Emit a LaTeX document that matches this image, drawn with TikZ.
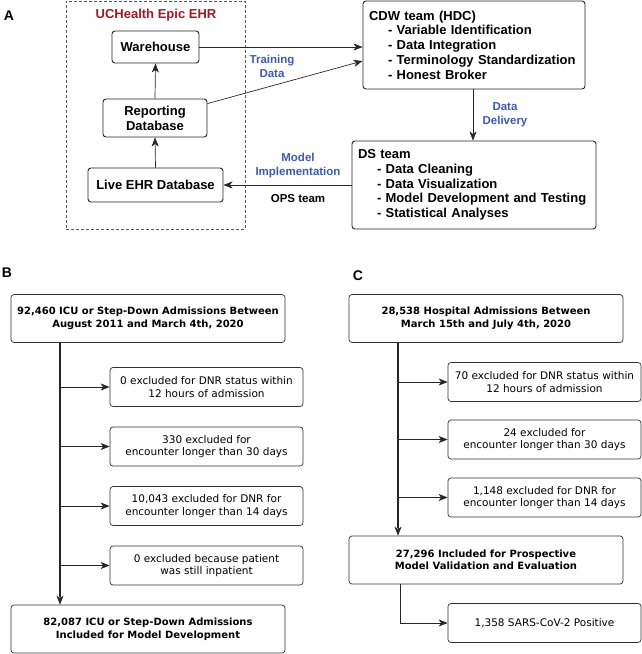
\documentclass[tikz,border=0pt]{standalone}
\usepackage{fontspec}
\setmainfont{Liberation Sans}
\newfontfamily\dvs{DejaVu Sans}
\usetikzlibrary{arrows.meta,calc}
\definecolor{epicred}{HTML}{9E1B24}
\definecolor{lblblue}{HTML}{3E5BA9}
\begin{document}
\begin{tikzpicture}[x=1pt,y=-1pt,
  abox/.style={draw=black!85,line width=0.9pt,rounded corners=3pt,
    font=\fontsize{13}{15}\selectfont\bfseries,align=center,inner sep=0pt},
  listbox/.style={draw=black!85,line width=0.9pt,rounded corners=3pt,
    font=\fontsize{13}{14.8}\selectfont\bfseries,align=left,inner xsep=6pt,inner ysep=0pt},
  lbl/.style={font=\fontsize{11.5}{14}\selectfont\bfseries,text=lblblue,align=center,inner sep=0pt},
  panel/.style={font=\fontsize{14}{16}\selectfont\bfseries,inner sep=0pt},
  bbox/.style={draw=black!80,line width=0.7pt,rounded corners=3pt,
    font=\dvs\fontsize{10.5}{12.5}\selectfont,align=center,inner sep=0pt,
    minimum width=193pt,minimum height=39pt},
  bigbox/.style={draw=black!80,line width=0.7pt,rounded corners=3pt,
    font=\dvs\bfseries\fontsize{10}{12.5}\selectfont,align=center,inner sep=0pt,
    minimum width=274pt,minimum height=48pt},
  arr/.style={-{Stealth[length=9pt,width=7pt,inset=2.5pt]},line width=0.7pt,draw=black!85},
  trunk/.style={line width=1.1pt,draw=black!85},
]
\useasboundingbox (0,0) rectangle (642,654);

% ---------------- Panel A ----------------
\node[panel] (pa) at (9,16) {A};
\node[draw=black!65,dashed,dash pattern=on 3pt off 2pt,line width=0.8pt,
  minimum width=179pt,minimum height=228pt,inner sep=0pt] (ehr) at (155.5,115) {};
\node[font=\fontsize{13}{15}\selectfont\bfseries,text=epicred,inner sep=0pt] (ehrt) at (156,15.5) {UCHealth Epic EHR};
\node[abox,minimum width=87pt,minimum height=32pt] (wh) at (155.5,47) {Warehouse};
\node[abox,minimum width=104pt,minimum height=38pt] (rep) at (155,118) {Reporting\\Database};
\node[abox,minimum width=135pt,minimum height=34pt] (live) at (155.5,185) {Live EHR Database};

\node[listbox,text width=210pt,minimum height=88pt] (cdw) at (474,45)
  {CDW team (HDC)\\
   \hspace*{19pt}- Variable Identification\\
   \hspace*{19pt}- Data Integration\\
   \hspace*{19pt}- Terminology Standardization\\
   \hspace*{19pt}- Honest Broker};
\node[listbox,text width=232pt,minimum height=88pt] (ds) at (474,185)
  {DS team\\
   \hspace*{19pt}- Data Cleaning\\
   \hspace*{19pt}- Data Visualization\\
   \hspace*{19pt}- Model Development and Testing\\
   \hspace*{19pt}- Statistical Analyses};

\draw[arr] (live.north) -- (rep.south);
\draw[arr] (rep.north) -- (wh.south);
\draw[arr] (wh.east) -- (cdw.west |- wh.east);
\draw[arr] ($(rep.north east)+(0,5)$) -- ($(cdw.west)+(0,16)$);
\draw[arr] (cdw.south -| 473,0) -- (ds.north -| 473,0);
\draw[arr] (ds.west) -- (live.east);

\node[lbl] (ltd) at (272,66) {Training\\Data};
\node[lbl] (ldd) at (505,115) {Data\\Delivery};
\node[lbl] (lmi) at (298,166) {Model\\Implementation};
\node[font=\fontsize{11.5}{14}\selectfont\bfseries,inner sep=0pt] (lops) at (298,199) {OPS team};

% ---------------- Panel B ----------------
\node[panel] (pb) at (7,273) {B};
\coordinate (bx) at (60,0);
\node[bigbox] (btop) at (148,318.5) {92,460 ICU or Step-Down Admissions Between\\August 2011 and March 4th, 2020};
\node[bbox] (b1) at (206.5,387) {0 excluded for DNR status within\\12 hours of admission};
\node[bbox] (b2) at (206.5,446.5) {330 excluded for\\encounter longer than 30 days};
\node[bbox] (b3) at (206.5,506) {10,043 excluded for DNR for\\encounter longer than 14 days};
\node[bbox] (b4) at (206.5,565.5) {0 excluded because patient\\was still inpatient};
\node[bigbox] (bbot) at (148,629) {82,087 ICU or Step-Down Admissions\\Included for Model Development};

\draw[trunk] (btop.south -| bx) -- ($(bbot.north -| bx)+(0,-8)$);
\draw[arr] ($(bbot.north -| bx)+(0,-9)$) -- (bbot.north -| bx);
\foreach \n in {b1,b2,b3,b4}{
  \draw[arr] (\n.west -| bx) -- (\n.west);
}

% ---------------- Panel C ----------------
\node[panel] (pc) at (358,276) {C};
\coordinate (cx) at (398,0);
\coordinate (cx2) at (400,0);
\node[bigbox] (ctop) at (486,318.5) {28,538 Hospital Admissions Between\\March 15th and July 4th, 2020};
\node[bbox] (c1) at (544.5,382) {70 excluded for DNR status within\\12 hours of admission};
\node[bbox] (c2) at (544.5,439.5) {24 excluded for\\encounter longer than 30 days};
\node[bbox] (c3) at (544.5,497.5) {1,148 excluded for DNR for\\encounter longer than 14 days};
\node[bigbox] (cmid) at (486,560) {27,296 Included for Prospective\\Model Validation and Evaluation};
\node[bbox] (clast) at (544.5,623) {1,358 SARS-CoV-2 Positive};

\draw[trunk] (ctop.south -| cx) -- ($(cmid.north -| cx)+(0,-8)$);
\draw[arr] ($(cmid.north -| cx)+(0,-9)$) -- (cmid.north -| cx);
\foreach \n in {c1,c2,c3}{
  \draw[arr] (\n.west -| cx) -- (\n.west);
}
\draw[arr] (cmid.south -| cx2) |- (clast.west);
\end{tikzpicture}
\end{document}
